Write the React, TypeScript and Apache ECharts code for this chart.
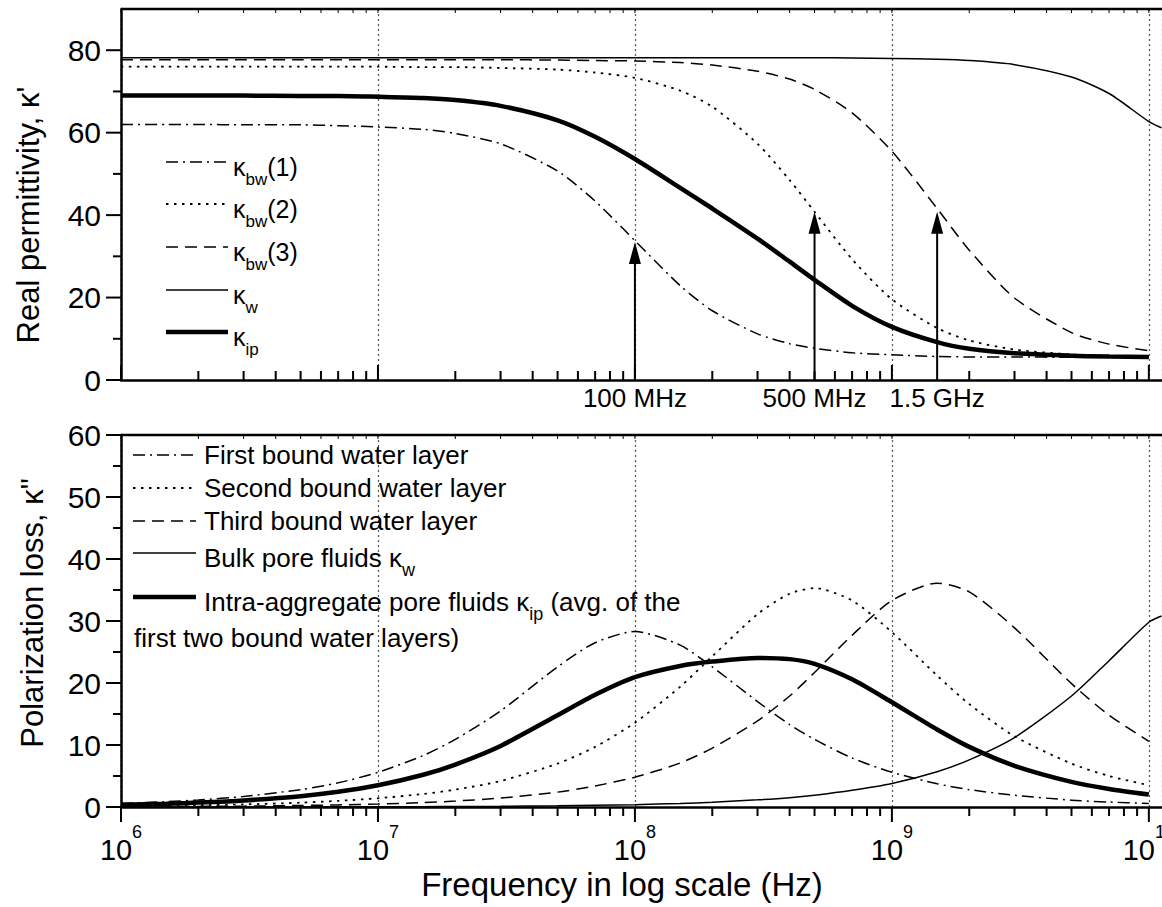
import React, { useEffect, useRef } from "react";
import * as echarts from "echarts";

// ---------- data ----------
const freqs = [1e6, 1.5e6, 2e6, 3e6, 5e6, 7e6, 1e7, 1.5e7, 2e7, 3e7, 5e7, 7e7, 1e8, 1.5e8, 2e8, 3e8, 4e8, 5e8, 7e8, 1e9, 1.5e9, 2e9, 3e9, 5e9, 7e9, 1e10];
const freqsW = [1e6, 1.5e6, 2e6, 3e6, 5e6, 7e6, 1e7, 1.5e7, 2e7, 3e7, 5e7, 7e7, 1e8, 1.5e8, 2e8, 3e8, 4e8, 5e8, 7e8, 1e9, 1.5e9, 2e9, 3e9, 5e9, 7e9, 1e10, 1.12e10];

// Real permittivity
const realBw1 = [62.0, 62.0, 62.0, 61.9, 61.9, 61.7, 61.4, 60.8, 59.8, 57.3, 50.7, 43.4, 33.8, 22.9, 16.8, 11.2, 8.8, 7.7, 6.6, 6.1, 5.7, 5.6, 5.6, 5.5, 5.5, 5.5];
const realBw2 = [76.0, 76.0, 76.0, 76.0, 76.0, 76.0, 76.0, 75.9, 75.9, 75.7, 75.3, 74.6, 73.3, 70.2, 66.3, 57.3, 48.5, 40.8, 29.3, 19.6, 12.6, 9.6, 7.4, 6.2, 5.9, 5.7];
const realBw3 = [77.7, 77.7, 77.7, 77.7, 77.7, 77.7, 77.7, 77.7, 77.7, 77.7, 77.6, 77.5, 77.4, 77.0, 76.4, 74.9, 73.0, 70.5, 64.8, 55.5, 41.6, 31.5, 19.9, 11.5, 8.7, 7.1];
const realW = [78.2, 78.2, 78.2, 78.2, 78.2, 78.2, 78.2, 78.2, 78.2, 78.2, 78.2, 78.2, 78.2, 78.2, 78.2, 78.2, 78.2, 78.2, 78.1, 78.0, 77.8, 77.5, 76.5, 73.5, 69.5, 62.7, 61.2];
const realIp = [69.0, 69.0, 69.0, 69.0, 68.9, 68.9, 68.7, 68.4, 67.9, 66.5, 63.0, 59.0, 53.6, 46.6, 41.6, 34.3, 28.7, 24.3, 18.0, 12.9, 9.2, 7.6, 6.5, 5.9, 5.7, 5.6];

// Polarization loss
const lossBw1 = [0.57, 0.85, 1.13, 1.7, 2.8, 3.9, 5.6, 8.3, 10.9, 15.5, 22.6, 26.5, 28.3, 26.1, 22.6, 17.0, 13.3, 10.9, 7.9, 5.6, 3.75, 2.8, 1.9, 1.1, 0.8, 0.57];
const lossBw2 = [0.14, 0.21, 0.28, 0.42, 0.7, 0.99, 1.41, 2.1, 2.8, 4.2, 7.0, 9.7, 13.6, 19.4, 24.3, 31.1, 34.4, 35.3, 33.3, 28.2, 21.2, 16.6, 11.4, 7.0, 5.0, 3.5];
const lossBw3 = [0.05, 0.07, 0.1, 0.14, 0.24, 0.34, 0.48, 0.72, 0.96, 1.44, 2.4, 3.4, 4.8, 7.1, 9.5, 13.9, 17.9, 21.7, 27.7, 33.3, 36.1, 34.7, 28.9, 19.9, 14.8, 10.6];
const lossW = [0.0, 0.01, 0.01, 0.01, 0.02, 0.03, 0.04, 0.06, 0.08, 0.11, 0.19, 0.27, 0.38, 0.57, 0.77, 1.15, 1.5, 1.9, 2.7, 3.8, 5.7, 7.6, 11.2, 17.9, 23.6, 29.8, 30.8];
const lossIp = [0.36, 0.53, 0.71, 1.06, 1.75, 2.45, 3.5, 5.2, 6.85, 9.85, 14.8, 18.1, 20.95, 22.75, 23.45, 24.05, 23.85, 23.1, 20.6, 16.9, 12.5, 9.7, 6.65, 4.05, 2.9, 2.0];

// Arrows in the upper panel
const arrowFreqs = [1e8, 5e8, 1.5e9];
const arrowTips = [33.5, 40.8, 40.8];
const arrowLabels = ["100 MHz", "500 MHz", "1.5 GHz"];

// Legends
const topLegend = ["{k|κ}{s|bw}(1)", "{k|κ}{s|bw}(2)", "{k|κ}{s|bw}(3)", "{k|κ}{s|w}", "{k|κ}{s|ip}"];
const bottomLegend = [
  "First bound water layer",
  "Second bound water layer",
  "Third bound water layer",
  "Bulk pore fluids {k|κ}{s|w}",
  "Intra-aggregate pore fluids {k|κ}{s|ip} (avg. of the",
];
const bottomLegendExtra = "first two bound water layers)";

const yTitleTop = "Real permittivity, κ'";
const yTitleBottom = 'Polarization loss, κ"';
const xTitle = "Frequency in log scale (Hz)";

const FONT = "'Liberation Sans', Arial, sans-serif";

const STYLES = [
  { dash: [12, 5, 2, 5], width: 1.5 },
  { dash: [2.5, 5.5], width: 1.8 },
  { dash: [12, 7], width: 1.5 },
  { dash: null as any, width: 1.5 },
  { dash: null as any, width: 4.5 },
];

export default function App() {
  const ref = useRef<HTMLDivElement>(null);

  useEffect(() => {
    document.body.style.margin = "0";
    const chart = echarts.init(ref.current!, null, { renderer: "svg" });

    const L = 121;
    const W = 1041;
    const xMax = 1.125e10;

    const pair = (xs: number[], ys: number[]) => xs.map((x, i) => [x, ys[i]]);

    const mkSeries = (gi: number, data: number[][], si: number) => ({
      type: "line",
      xAxisIndex: gi,
      yAxisIndex: gi,
      data,
      showSymbol: false,
      symbol: "none",
      smooth: 0.25,
      silent: true,
      lineStyle: {
        color: "#000",
        width: STYLES[si].width,
        type: STYLES[si].dash || "solid",
      },
      z: si === 4 ? 5 : 3,
    });

    const xAxisBase = (gi: number) => ({
      type: "log",
      logBase: 10,
      gridIndex: gi,
      min: 1e6,
      max: xMax,
      axisLine: { show: true, lineStyle: { color: "#000", width: 2.5 } },
      axisTick: { show: false },
      splitLine: { show: true, lineStyle: { color: "#555", width: 1.2, type: [2, 3] } },
    });

    const option: any = {
      animation: false,
      backgroundColor: "#fff",
      grid: [
        { left: L, top: 9, width: W, height: 371, containLabel: false, outerBoundsMode: "none" },
        { left: L, top: 435, width: W, height: 372, containLabel: false, outerBoundsMode: "none" },
      ],
      xAxis: [
        { ...xAxisBase(0), axisLabel: { show: false } },
        {
          ...xAxisBase(1),
          axisLabel: {
            show: true,
            margin: 28,
            hideOverlap: false,
            formatter: (v: number) => {
              const e = Math.log10(v);
              if (Math.abs(e - Math.round(e)) > 0.01) return "";
              return "{b|10}{s|" + Math.round(e) + "}";
            },
            rich: {
              b: { fontSize: 29, lineHeight: 29, fontFamily: FONT, color: "#000" },
              s: { fontSize: 18, lineHeight: 18, fontFamily: FONT, color: "#000", padding: [0, 0, 36, 0] },
            },
          },
        },
      ],
      yAxis: [
        {
          type: "value",
          gridIndex: 0,
          min: 0,
          max: 90,
          interval: 10,
          axisLine: { show: true, lineStyle: { color: "#000", width: 2.5 } },
          axisTick: { show: false },
          splitLine: { show: false },
          axisLabel: {
            margin: 20,
            fontSize: 30,
            fontFamily: FONT,
            color: "#000",
            formatter: (v: number) => (v % 20 === 0 && v <= 80 ? String(v) : ""),
          },
        },
        {
          type: "value",
          gridIndex: 1,
          min: 0,
          max: 60,
          interval: 10,
          axisLine: { show: true, lineStyle: { color: "#000", width: 2.5 } },
          axisTick: { show: false },
          splitLine: { show: false },
          axisLabel: { margin: 20, fontSize: 30, fontFamily: FONT, color: "#000" },
        },
      ],
      series: [
        mkSeries(0, pair(freqs, realBw1), 0),
        mkSeries(0, pair(freqs, realBw2), 1),
        mkSeries(0, pair(freqs, realBw3), 2),
        mkSeries(0, pair(freqsW, realW), 3),
        mkSeries(0, pair(freqs, realIp), 4),
        mkSeries(1, pair(freqs, lossBw1), 0),
        mkSeries(1, pair(freqs, lossBw2), 1),
        mkSeries(1, pair(freqs, lossBw3), 2),
        mkSeries(1, pair(freqsW, lossW), 3),
        mkSeries(1, pair(freqs, lossIp), 4),
      ],
    };
    chart.setOption(option);

    const px = (gi: number, v: number) => chart.convertToPixel({ xAxisIndex: gi } as any, v) as number;
    const py = (gi: number, v: number) => chart.convertToPixel({ yAxisIndex: gi } as any, v) as number;

    const g: any[] = [];
    const line = (x1: number, y1: number, x2: number, y2: number, w: number, dash?: any) =>
      g.push({
        type: "line",
        silent: true,
        z: 10,
        shape: { x1, y1, x2, y2 },
        style: { stroke: "#000", lineWidth: w, lineDash: dash || null },
      });

    // frame top lines
    const yTop0 = py(0, 90);
    const yTop1 = py(1, 60);
    line(L, yTop0, 1162, yTop0, 2.5);
    line(L, yTop1, 1162, yTop1, 2.5);

    // x ticks (log positions)
    const xb0 = py(0, 0);
    const xb1 = py(1, 0);
    for (let n = 6; n <= 10; n++) {
      for (let k = 1; k <= 9; k++) {
        const f = k * Math.pow(10, n);
        if (f > xMax) continue;
        const x = px(0, f);
        const major = k === 1;
        line(x, xb0, x, xb0 - (major ? 15 : 9), 2);
        line(x, yTop0, x, yTop0 + 4, 1);
        line(x, xb1, x, xb1 + (major ? 15 : 9), 2);
        line(x, yTop1, x, yTop1 + 4, 1);
      }
    }
    // y ticks
    for (let v = 0; v <= 80; v += 10) {
      const y = py(0, v);
      line(L, y, L - (v % 20 === 0 ? 15 : 8), y, 2);
    }
    for (let v = 0; v <= 60; v += 5) {
      const y = py(1, v);
      line(L, y, L - (v % 10 === 0 ? 15 : 8), y, 2);
    }

    // arrows + labels
    arrowFreqs.forEach((f, i) => {
      const x = px(0, f);
      const yTip = py(0, arrowTips[i]);
      line(x, xb0, x, yTip + 18, 2);
      g.push({
        type: "polygon",
        silent: true,
        z: 11,
        shape: { points: [[x, yTip], [x - 6, yTip + 22], [x + 6, yTip + 22]] },
        style: { fill: "#000" },
      });
      g.push({
        type: "text",
        silent: true,
        z: 11,
        x,
        y: xb0 + 18,
        style: {
          text: arrowLabels[i],
          fontSize: 26,
          fontFamily: FONT,
          fill: "#000",
          align: "center",
          verticalAlign: "middle",
        },
      });
    });

    const richLeg = (fs: number) => ({
      k: { fontSize: fs, fontFamily: FONT, fill: "#000", color: "#000" },
      s: { fontSize: Math.round(fs * 0.68), fontFamily: FONT, fill: "#000", color: "#000", padding: [24, 0, 0, 0] },
    });

    // top legend
    const topRows = [162, 204, 247, 290, 332];
    topLegend.forEach((t, i) => {
      const y = topRows[i];
      line(166, y, 228, y, STYLES[i].width, STYLES[i].dash);
      g.push({
        type: "text",
        silent: true,
        z: 11,
        x: 233,
        y: y + 5,
        style: {
          text: t,
          rich: richLeg(25),
          fontSize: 25,
          fontFamily: FONT,
          fill: "#000",
          align: "left",
          verticalAlign: "middle",
        },
      });
    });

    // bottom legend
    const botRows = [455, 488, 521, 553, 597];
    bottomLegend.forEach((t, i) => {
      const y = botRows[i];
      line(133, y, 196, y, STYLES[i].width, STYLES[i].dash);
      const hasSub = t.indexOf("{k|") >= 0;
      g.push({
        type: "text",
        silent: true,
        z: 11,
        x: 204,
        y: hasSub ? y + 5 : y,
        style: {
          text: t,
          rich: richLeg(26),
          fontSize: 26,
          fontFamily: FONT,
          fill: "#000",
          align: "left",
          verticalAlign: "middle",
        },
      });
    });
    g.push({
      type: "text",
      silent: true,
      z: 11,
      x: 134,
      y: 638,
      style: {
        text: bottomLegendExtra,
        fontSize: 26,
        fontFamily: FONT,
        fill: "#000",
        align: "left",
        verticalAlign: "middle",
      },
    });

    // axis titles
    g.push({
      type: "text",
      silent: true,
      x: 28,
      y: 215,
      rotation: Math.PI / 2,
      style: { text: yTitleTop, fontSize: 31, fontFamily: FONT, fill: "#000", align: "center", verticalAlign: "middle" },
    });
    g.push({
      type: "text",
      silent: true,
      x: 32,
      y: 613,
      rotation: Math.PI / 2,
      style: { text: yTitleBottom, fontSize: 31, fontFamily: FONT, fill: "#000", align: "center", verticalAlign: "middle" },
    });
    g.push({
      type: "text",
      silent: true,
      x: 622,
      y: 884,
      style: { text: xTitle, fontSize: 33, fontFamily: FONT, fill: "#000", align: "center", verticalAlign: "middle" },
    });

    chart.setOption({ graphic: { elements: g } });

    return () => chart.dispose();
  }, []);

  return <div ref={ref} style={{ width: 1162, height: 907 }} />;
}
